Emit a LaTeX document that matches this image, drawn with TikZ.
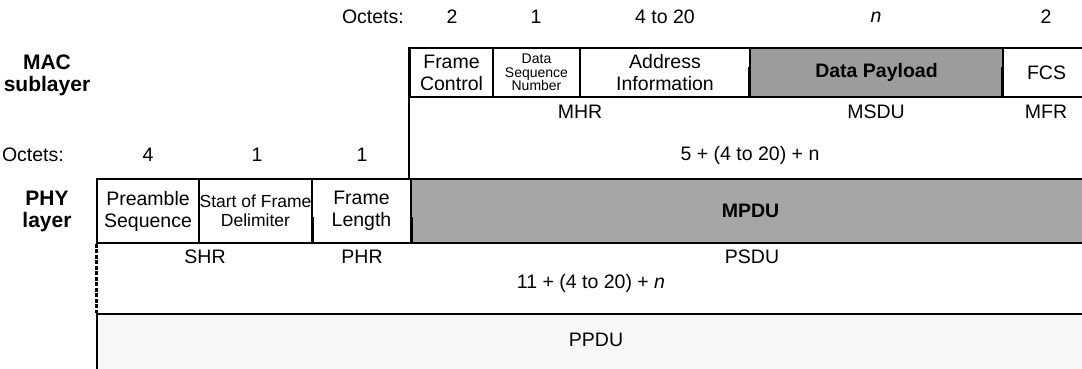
\documentclass[tikz,border=0pt]{standalone}
\usepackage{fontspec}
\setmainfont{Liberation Sans}
\begin{document}
\begin{tikzpicture}[x=1pt,y=-1pt,
  fld/.style={draw=black, line width=1.7pt, inner sep=0pt, align=center, font=\fontsize{19.5}{22}\selectfont},
  lbl/.style={inner sep=0pt, align=center, font=\fontsize{19.5}{22}\selectfont},
  sep/.style={black, line width=1.5pt},
  layer/.style={inner sep=0pt, align=center, font=\fontsize{21}{22}\selectfont\bfseries}]
\useasboundingbox (0,0) rectangle (1082,369);
\clip (0,0) rectangle (1082,369);
% MAC row
\node[fld, minimum width=83pt, minimum height=49pt] (fc) at (451.5,72.5) {Frame\\Control};
\node[fld, minimum width=87pt, minimum height=49pt, font=\fontsize{14}{13.5}\selectfont] (dsn) at (536.5,72.5) {Data\\Sequence\\Number};
\node[fld, minimum width=170pt, minimum height=49pt] (addr) at (665,72.5) {Address\\Information};
\node[fld, fill=gray!78, minimum width=253pt, minimum height=49pt, font=\fontsize{19.5}{22}\selectfont\bfseries] (pay) at (876.5,72.5) {Data Payload};
\node[fld, minimum width=87pt, minimum height=49pt] (fcs) at (1046.5,72.5) {FCS};
% MAC octets
\node[lbl, anchor=east] (oct1) at (404,17) {Octets:};
\node[lbl] (o1a) at (452,17) {2};
\node[lbl] (o1b) at (536,17) {1};
\node[lbl] (o1c) at (665,17) {4 to 20};
\node[lbl] (o1d) at (876,17) {\itshape n};
\node[lbl] (o1e) at (1046,17) {2};
\node[layer] (mac) at (47,75) {MAC\\sublayer};
% MAC lower labels
\node[lbl] (mhr) at (580,112) {MHR};
\node[lbl] (msdu) at (876,112) {MSDU};
\node[lbl] (mfr) at (1046,112) {MFR};
\coordinate (s1) at ([yshift=31pt]pay.south west);
\coordinate (s2) at ([yshift=31pt]fcs.south west);
\draw[sep] (pay.south west) -- (s1);
\draw[sep] (fcs.south west) -- (s2);
% PHY row
\node[fld, minimum width=102pt, minimum height=64pt] (pre) at (148,211) {Preamble\\Sequence};
\node[fld, minimum width=113pt, minimum height=64pt, font=\fontsize{17.5}{19}\selectfont] (sfd) at (255.5,211) {Start of Frame\\Delimiter};
\node[fld, minimum width=99pt, minimum height=64pt] (fl) at (361.5,211) {Frame\\Length};
\node[fld, fill=gray!70, minimum width=679pt, minimum height=64pt, font=\fontsize{19.5}{22}\selectfont\bfseries] (mpdu) at (750.5,211) {MPDU};
\draw[sep] (fc.north west) -- (fc.north west |- mpdu.north);
% PHY octets
\node[lbl, anchor=east] (oct2) at (64,155) {Octets:};
\node[lbl] (o2a) at (148,155) {4};
\node[lbl] (o2b) at (257,155) {1};
\node[lbl] (o2c) at (362,155) {1};
\node[lbl] (o2d) at (750,155) {5 + (4 to 20) + n};
\node[layer] (phy) at (47,211) {PHY\\layer};
% PHY lower labels
\node[lbl] (shr) at (205,257) {SHR};
\node[lbl] (phr) at (362,257) {PHR};
\node[lbl] (psdu) at (752,257) {PSDU};
\node[lbl] (tot) at (591,283) {11 + (4 to 20) + \itshape n};
\coordinate (s3) at ([yshift=27pt]sfd.south east);
\coordinate (s4) at ([yshift=27pt]fl.south east);
\draw[sep] (sfd.south east) -- (s3);
\draw[sep] (fl.south east) -- (s4);
% PPDU
\node[fld, fill=gray!6, minimum width=993pt, minimum height=58pt] (ppdu) at (593.5,343) {};
\node[lbl] (ppdut) at (596,340) {PPDU};
\draw[black, line width=3pt, dash pattern=on 4pt off 1.5pt] (pre.south west) -- (pre.south west |- ppdu.north);
\end{tikzpicture}
\end{document}
